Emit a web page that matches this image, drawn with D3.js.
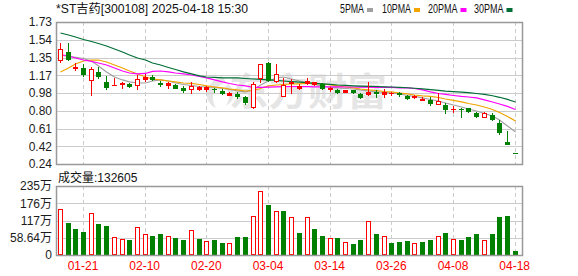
<!DOCTYPE html>
<html>
<head>
<meta charset="utf-8">
<script src="https://cdn.jsdelivr.net/npm/d3@7"></script>
<style>
  body { margin: 0; background: #fff; }
  svg { display: block; }
  text { font-family: 'Liberation Sans', 'Noto Sans CJK SC', sans-serif; }
</style>
</head>
<body>
<svg id="chart" width="578" height="276"></svg>
<script>
const dates = ['01-16', '01-17', '01-20', '01-21', '01-22', '01-23', '01-24', '01-27', '02-05', '02-06',
  '02-07', '02-10', '02-11', '02-12', '02-13', '02-14', '02-17', '02-18', '02-19', '02-20',
  '02-21', '02-24', '02-25', '02-26', '02-27', '02-28', '03-03', '03-04', '03-05', '03-06',
  '03-07', '03-10', '03-11', '03-12', '03-13', '03-14', '03-17', '03-18', '03-19', '03-20',
  '03-21', '03-24', '03-25', '03-26', '03-27', '03-28', '03-31', '04-01', '04-02', '04-03',
  '04-07', '04-08', '04-09', '04-10', '04-11', '04-14', '04-15', '04-16', '04-17', '04-18']

const opens = [1.331, 1.412, 1.247, 1.251, 1.118, 1.209, 1.104, 1.067, 1.076, 1.080,
  1.069, 1.129, 1.156, 1.090, 1.069, 1.069, 1.037, 1.027, 1.024, 1.027,
  1.032, 1.008, 0.968, 0.978, 0.943, 0.841, 1.139, 1.303, 1.111, 0.957,
  1.085, 1.041, 1.087, 1.076, 1.076, 1.024, 1.017, 0.999, 1.013, 0.974,
  0.978, 0.995, 0.974, 0.985, 0.985, 0.957, 0.943, 0.915, 0.915, 0.870,
  0.860, 0.815, 0.820, 0.824, 0.778, 0.737, 0.757, 0.667, 0.468, 0.360]
const highs = [1.506, 1.506, 1.303, 1.286, 1.261, 1.255, 1.163, 1.139, 1.104, 1.093,
  1.174, 1.181, 1.174, 1.111, 1.104, 1.083, 1.058, 1.097, 1.062, 1.058,
  1.040, 1.024, 0.995, 0.999, 0.950, 1.097, 1.290, 1.310, 1.286, 1.139,
  1.130, 1.076, 1.146, 1.104, 1.087, 1.051, 1.027, 1.017, 1.020, 0.988,
  1.104, 1.017, 1.024, 1.000, 1.000, 0.960, 0.964, 0.940, 0.940, 0.980,
  0.877, 0.845, 0.825, 0.830, 0.785, 0.790, 0.775, 0.700, 0.586, 0.360]
const lows = [1.307, 1.331, 1.226, 1.167, 0.961, 1.146, 1.030, 1.065, 1.041, 1.051,
  1.030, 1.111, 1.118, 1.058, 1.041, 1.034, 0.999, 0.985, 1.017, 1.010,
  1.000, 0.978, 0.960, 0.929, 0.873, 0.831, 1.104, 1.110, 1.097, 0.957,
  0.980, 1.027, 1.076, 1.069, 1.024, 1.010, 0.988, 0.999, 0.990, 0.936,
  0.964, 0.940, 0.946, 0.965, 0.950, 0.925, 0.930, 0.915, 0.860, 0.870,
  0.772, 0.790, 0.735, 0.790, 0.735, 0.737, 0.700, 0.560, 0.453, 0.360]
const closes = [1.447, 1.339, 1.261, 1.185, 1.234, 1.163, 1.045, 1.069, 1.087, 1.058,
  1.132, 1.156, 1.129, 1.080, 1.085, 1.041, 1.016, 1.058, 1.045, 1.048,
  1.027, 0.988, 0.990, 0.954, 0.894, 1.076, 1.286, 1.122, 1.181, 1.069,
  1.097, 1.058, 1.111, 1.097, 1.034, 1.036, 0.995, 1.017, 0.992, 0.946,
  0.999, 0.981, 0.995, 0.990, 0.978, 0.929, 0.957, 0.920, 0.880, 0.900,
  0.817, 0.820, 0.815, 0.796, 0.747, 0.772, 0.710, 0.573, 0.453, 0.360]

// volume in 万
const volumes = [155.4, 109.9, 88.4, 78.2, 142.8, 105.4, 98.6, 60.2, 53.4, 51.0,
  94.2, 71.4, 64.6, 71.4, 64.6, 57.8, 51.0, 84.0, 54.4, 47.6,
  51.0, 41.8, 40.8, 61.2, 61.2, 132.6, 216.6, 171.0, 149.6, 149.6,
  128.2, 75.8, 128.2, 88.4, 64.6, 57.8, 57.8, 44.2, 37.4, 51.0,
  115.6, 72.5, 64.6, 41.8, 44.2, 47.6, 40.8, 44.2, 51.0, 64.6,
  75.8, 54.4, 51.0, 61.2, 71.4, 51.0, 72.5, 129.2, 132.6, 13.26]

const ma5 = [1.384, 1.368, 1.358, 1.347, 1.321, 1.268, 1.206, 1.153, 1.122, 1.101,
  1.090, 1.090, 1.111, 1.122, 1.111, 1.090, 1.074, 1.064, 1.053, 1.048,
  1.043, 1.032, 1.022, 1.006, 0.996, 1.017, 1.069, 1.111, 1.143, 1.153,
  1.132, 1.111, 1.090, 1.074, 1.059, 1.043, 1.038, 1.032, 1.027, 1.017,
  1.006, 0.996, 0.991, 0.985, 0.975, 0.959, 0.949, 0.933, 0.917, 0.901,
  0.880, 0.859, 0.838, 0.817, 0.796, 0.770, 0.744, 0.702, 0.639, 0.576]
const ma10 = [1.206, 1.247, 1.289, 1.321, 1.331, 1.331, 1.310, 1.279, 1.247, 1.216,
  1.185, 1.153, 1.132, 1.122, 1.111, 1.101, 1.090, 1.085, 1.074, 1.059,
  1.048, 1.038, 1.027, 1.017, 1.006, 1.011, 1.032, 1.059, 1.069, 1.074,
  1.080, 1.080, 1.085, 1.085, 1.080, 1.069, 1.059, 1.048, 1.038, 1.027,
  1.017, 1.011, 1.001, 0.996, 0.985, 0.975, 0.964, 0.954, 0.949, 0.938,
  0.922, 0.907, 0.891, 0.875, 0.859, 0.838, 0.812, 0.781, 0.739, 0.692]
const ma20 = [1.389, 1.373, 1.352, 1.331, 1.316, 1.300, 1.279, 1.247, 1.216, 1.195,
  1.185, 1.190, 1.211, 1.216, 1.206, 1.195, 1.185, 1.174, 1.158, 1.143,
  1.122, 1.101, 1.085, 1.069, 1.059, 1.043, 1.045, 1.047, 1.049, 1.051,
  1.052, 1.052, 1.051, 1.050, 1.050, 1.049, 1.049, 1.048, 1.048, 1.047,
  1.046, 1.045, 1.043, 1.043, 1.038, 1.038, 1.032, 1.017, 0.996, 0.980,
  0.970, 0.959, 0.949, 0.943, 0.933, 0.912, 0.891, 0.870, 0.844, 0.812]
const ma30 = [1.615, 1.594, 1.573, 1.546, 1.525, 1.504, 1.478, 1.447, 1.415, 1.384,
  1.352, 1.331, 1.300, 1.279, 1.253, 1.232, 1.206, 1.185, 1.164, 1.153,
  1.148, 1.143, 1.143, 1.143, 1.137, 1.132, 1.128, 1.123, 1.117, 1.111,
  1.105, 1.099, 1.093, 1.087, 1.081, 1.075, 1.069, 1.064, 1.060, 1.057,
  1.055, 1.053, 1.050, 1.048, 1.045, 1.040, 1.035, 1.028, 1.020, 1.012,
  1.005, 1.000, 0.995, 0.988, 0.980, 0.970, 0.956, 0.940, 0.918, 0.891]

const priceTicks = [1.73, 1.54375, 1.3575, 1.17125, 0.985, 0.79875, 0.6125, 0.42625, 0.24]
const priceTickLabels = ['1.73', '1.54', '1.35', '1.17', '0.98', '0.80', '0.61', '0.42', '0.24']
const volTicks = [0, 58.64, 117.28, 175.92, 234.56]
const volTickLabels = ['0', '58.64万', '117万', '176万', '235万']
const dateLabels = ['01-21', '02-10', '02-20', '03-04', '03-14', '03-26', '04-08', '04-18']

const maNames = ['5PMA', '10PMA', '20PMA', '30PMA']
const maColors = ['#a0a0a0', '#f2a400', '#ff00ff', '#006e35']
const title = '*ST吉药[300108] 2025-04-18 15:30'
const volTitle = '成交量:132605'

const red = '#ff0000'
const green = '#008000'

const svg = d3.select('#chart')
const left = 56
const right = 522
const priceTop = 22
const priceBottom = 164
const volTop = 186
const volBottom = 255

const x = d3.scaleBand().domain(dates).range([left, 518.5])
const cx = d => Math.round(x(d) + x.bandwidth() / 2)
const y = d3.scaleLinear().domain([0.24, 1.73]).range([priceBottom, priceTop])
const yv = d3.scaleLinear().domain([0, 234.56]).range([volBottom, volTop])

const candles = dates.map((d, i) => ({
  date: d,
  open: opens[i],
  high: highs[i],
  low: lows[i],
  close: closes[i],
  vol: volumes[i],
  prev: i > 0 ? closes[i - 1] : opens[i]
}))

// watermark
const wm = svg.append('g').attr('fill', '#e5e5e5')
wm.append('path')
  .attr('d', 'M222,76 C204,82 202,102 216,108 C210,98 213,87 226,82 Z M228,84 C236,90 236,100 226,106 C231,97 230,91 224,88 Z')
wm.append('text')
  .attr('x', 229)
  .attr('y', 105)
  .attr('font-size', 38)
  .attr('font-weight', 'bold')
  .attr('textLength', 158)
  .attr('lengthAdjust', 'spacingAndGlyphs')
  .style('font-family', "'Noto Sans CJK SC', sans-serif")
  .text('东方财富')

// horizontal grid
svg.append('g')
  .selectAll('line')
  .data(priceTicks.slice(1, -1))
  .enter()
  .append('line')
  .attr('x1', left).attr('x2', right)
  .attr('y1', d => Math.round(y(d)) + 0.5)
  .attr('y2', d => Math.round(y(d)) + 0.5)
  .attr('stroke', '#cccccc')

svg.append('g')
  .selectAll('line')
  .data(volTicks.slice(1, -1))
  .enter()
  .append('line')
  .attr('x1', left).attr('x2', right)
  .attr('y1', d => Math.round(yv(d)) + 0.5)
  .attr('y2', d => Math.round(yv(d)) + 0.5)
  .attr('stroke', '#cccccc')

// vertical dashed grid
const vgrid = svg.append('g').attr('stroke', '#cccccc').attr('stroke-dasharray', '4,3')
dateLabels.forEach(d => {
  vgrid.append('line')
    .attr('x1', cx(d) + 0.5).attr('x2', cx(d) + 0.5)
    .attr('y1', priceTop).attr('y2', priceBottom)
  vgrid.append('line')
    .attr('x1', cx(d) + 0.5).attr('x2', cx(d) + 0.5)
    .attr('y1', volTop).attr('y2', volBottom)
})

// MA lines
const maSeries = [ma5, ma10, ma20, ma30]
const line = d3.line()
  .x((v, i) => cx(dates[i]) + 0.5)
  .y(v => y(v))
maSeries.forEach((s, k) => {
  svg.append('path')
    .datum(s)
    .attr('fill', 'none')
    .attr('stroke', maColors[k])
    .attr('stroke-width', 1.2)
    .attr('d', line)
})

// candles
const upCandle = d => d.close > d.open || (d.close === d.open && d.close >= d.prev)
const cg = svg.append('g')
candles.forEach(d => {
  const c = cx(d.date)
  const col = upCandle(d) ? red : green
  cg.append('line')
    .attr('x1', c + 0.5).attr('x2', c + 0.5)
    .attr('y1', Math.round(y(d.high))).attr('y2', Math.round(y(d.low)) + 1)
    .attr('stroke', col)
  const top = Math.round(y(Math.max(d.open, d.close)))
  const bot = Math.round(y(Math.min(d.open, d.close)))
  if (upCandle(d) && bot - top >= 3) {
    cg.append('rect')
      .attr('x', c - 1.5).attr('y', top + 0.5)
      .attr('width', 4).attr('height', bot - top)
      .attr('fill', '#fff').attr('stroke', col)
  } else {
    cg.append('rect')
      .attr('x', c - 2).attr('y', top)
      .attr('width', 5).attr('height', Math.max(1, bot - top + 1))
      .attr('fill', col)
  }
})

// volume bars
const vg = svg.append('g')
candles.forEach(d => {
  const c = cx(d.date)
  const up = d.close >= d.prev
  const top = Math.round(yv(d.vol))
  if (up) {
    vg.append('rect')
      .attr('x', c - 1.5).attr('y', top + 0.5)
      .attr('width', 4).attr('height', volBottom - top - 1)
      .attr('fill', '#fff').attr('stroke', red)
  } else {
    vg.append('rect')
      .attr('x', c - 2).attr('y', top)
      .attr('width', 5).attr('height', volBottom - top)
      .attr('fill', green)
  }
})

// frames
svg.append('rect')
  .attr('x', left + 0.5).attr('y', priceTop + 0.5)
  .attr('width', right - left).attr('height', priceBottom - priceTop)
  .attr('fill', 'none').attr('stroke', '#999').attr('stroke-width', 1.5)
svg.append('rect')
  .attr('x', left + 0.5).attr('y', volTop + 0.5)
  .attr('width', right - left).attr('height', volBottom - volTop)
  .attr('fill', 'none').attr('stroke', '#999').attr('stroke-width', 1.5)

// axes
const yAxis = svg.append('g')
  .attr('transform', `translate(${left},0)`)
  .call(d3.axisLeft(y).tickValues(priceTicks).tickSize(0).tickPadding(4)
    .tickFormat((d, i) => priceTickLabels[i]))
const vAxis = svg.append('g')
  .attr('transform', `translate(${left},0)`)
  .call(d3.axisLeft(yv).tickValues(volTicks).tickSize(0).tickPadding(4)
    .tickFormat((d, i) => volTickLabels[i]))
const xAxis = svg.append('g')
  .attr('transform', `translate(0,${volBottom})`)
  .call(d3.axisBottom(x).tickValues(dateLabels).tickSize(0).tickPadding(6))

;[yAxis, vAxis, xAxis].forEach(a => {
  a.select('.domain').remove()
  a.selectAll('text')
    .style('font-family', "'Liberation Sans', 'Noto Sans CJK SC', sans-serif")
    .attr('font-size', 12)
    .attr('fill', '#1c1c1c')
})
xAxis.selectAll('text').attr('fill', red)

// title & legend
svg.append('text')
  .attr('x', 56).attr('y', 13)
  .attr('font-size', 12)
  .attr('fill', '#111')
  .attr('textLength', 192)
  .attr('lengthAdjust', 'spacingAndGlyphs')
  .text(title)

const legendStart = [340, 382, 428, 474]
const legendWidth = [24, 29, 29.5, 29.5]
maNames.forEach((n, i) => {
  svg.append('text')
    .attr('x', legendStart[i]).attr('y', 13)
    .attr('font-size', 12)
    .attr('fill', '#111')
    .attr('textLength', legendWidth[i])
    .attr('lengthAdjust', 'spacingAndGlyphs')
    .text(n)
  svg.append('rect')
    .attr('x', legendStart[i] + legendWidth[i] + 3).attr('y', 8)
    .attr('width', 6).attr('height', 4)
    .attr('fill', maColors[i])
})

svg.append('text')
  .attr('x', 58).attr('y', 182)
  .attr('font-size', 12)
  .attr('fill', '#111')
  .text(volTitle)
</script>
</body>
</html>
